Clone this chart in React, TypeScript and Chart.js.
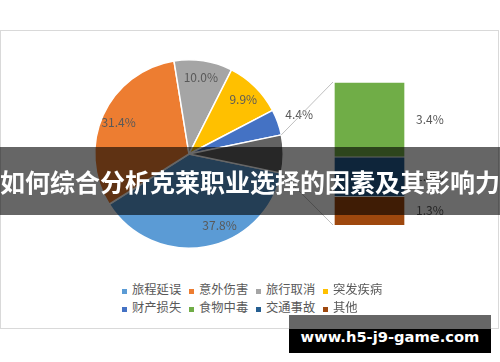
import React, { useEffect, useRef } from 'react';
import { Chart, registerables } from 'chart.js';

Chart.register(...registerables);

// ---- data ----
const mainCategories = ['旅程延误', '意外伤害', '旅行取消', '突发疾病', '财产损失'];
const mainValues = [37.8, 31.4, 10.0, 9.9, 4.4];
const detailCategories = ['食物中毒', '交通事故', '其他'];
const detailValues = [3.4, 1.8, 1.3];

const mainColors = ['#5B9BD5', '#ED7D31', '#A5A5A5', '#FFC000', '#4472C4'];
const detailColors = ['#70AD47', '#255E91', '#9E480E'];
const otherSliceColor = '#636363';

const bannerText = '如何综合分析克莱职业选择的因素及其影响力';
const watermarkText = 'www.h5-j9-game.com';

// ---- style / layout ----
const FONT = '"Noto Sans CJK SC", "Noto Sans", sans-serif';
const LABEL_COLOR = '#595959';
const PIE_BOX = { left: 0, top: 40, width: 378, height: 228 };
const BAR_BOX = { left: 320, top: 70, width: 140, height: 170 };
const LABEL_ANGLE_NUDGE = [-13, 0, 0, 0, 0];

const otherSum = detailValues.reduce((a, b) => a + b, 0);
const pieValues = [...mainValues, otherSum];
const total = pieValues.reduce((a, b) => a + b, 0);
const fmt = (v: number) => v.toFixed(1) + '%';

const pieLabelPlugin = {
  id: 'pieLabels',
  afterDatasetsDraw(chart: any) {
    const ctx = chart.ctx;
    const meta = chart.getDatasetMeta(0);
    ctx.save();
    ctx.font = `12px ${FONT}`;
    ctx.fillStyle = LABEL_COLOR;
    ctx.textAlign = 'center';
    ctx.textBaseline = 'middle';
    mainValues.forEach((v, i) => {
      const arc = meta.data[i];
      const p = arc.getProps(['x', 'y', 'startAngle', 'endAngle', 'outerRadius'], true);
      const share = v / total;
      const f = share < 0.05 ? 1.24 : 0.82;
      const mid = (p.startAngle + p.endAngle) / 2 + (LABEL_ANGLE_NUDGE[i] * Math.PI) / 180;
      ctx.fillText(fmt(v), p.x + Math.cos(mid) * p.outerRadius * f, p.y + Math.sin(mid) * p.outerRadius * f);
    });
    ctx.restore();
  },
};

const makeConnectorPlugin = (barChart: any) => ({
  id: 'connectors',
  afterDatasetsDraw(chart: any) {
    const ctx = chart.ctx;
    const arc = chart.getDatasetMeta(0).data[pieValues.length - 1];
    const p = arc.getProps(['x', 'y', 'startAngle', 'endAngle', 'outerRadius'], true);
    const n = barChart.data.datasets.length;
    const topEl = barChart.getDatasetMeta(n - 1).data[0].getProps(['x', 'y', 'width'], true);
    const botEl = barChart.getDatasetMeta(0).data[0].getProps(['x', 'base', 'width'], true);
    const dx = BAR_BOX.left - PIE_BOX.left;
    const dy = BAR_BOX.top - PIE_BOX.top;
    const leftX = topEl.x - topEl.width / 2 + dx - 1;
    ctx.save();
    ctx.strokeStyle = '#BFBFBF';
    ctx.lineWidth = 1;
    ctx.beginPath();
    ctx.moveTo(p.x + Math.cos(p.startAngle) * p.outerRadius, p.y + Math.sin(p.startAngle) * p.outerRadius);
    ctx.lineTo(leftX, topEl.y + dy);
    ctx.moveTo(p.x + Math.cos(p.endAngle) * p.outerRadius, p.y + Math.sin(p.endAngle) * p.outerRadius);
    ctx.lineTo(leftX, botEl.base + dy);
    ctx.stroke();
    ctx.restore();
  },
});

const barLabelPlugin = {
  id: 'barLabels',
  afterDatasetsDraw(chart: any) {
    const ctx = chart.ctx;
    ctx.save();
    ctx.font = `12px ${FONT}`;
    ctx.fillStyle = LABEL_COLOR;
    ctx.textAlign = 'left';
    ctx.textBaseline = 'middle';
    chart.data.datasets.forEach((ds: any, i: number) => {
      const el = chart.getDatasetMeta(i).data[0].getProps(['x', 'y', 'base', 'width'], true);
      ctx.fillText(fmt(ds.data[0]), el.x + el.width / 2 + 11, (el.y + el.base) / 2);
    });
    ctx.restore();
  },
};

export default function App() {
  const pieRef = useRef<HTMLCanvasElement>(null);
  const barRef = useRef<HTMLCanvasElement>(null);

  useEffect(() => {
    const barDatasets = detailCategories
      .map((c, i) => ({
        label: c,
        data: [detailValues[i]],
        backgroundColor: detailColors[i],
        borderColor: '#ffffff',
        borderWidth: 1,
        borderSkipped: 'start' as const,
        barPercentage: 1,
        categoryPercentage: 1,
      }))
      .reverse();

    const barChart = new Chart(barRef.current!, {
      type: 'bar',
      data: { labels: [''], datasets: barDatasets },
      options: {
        animation: false,
        responsive: false,
        events: [],
        layout: { padding: { left: 14, right: 55, top: 12, bottom: 15 } },
        scales: {
          x: { display: false, stacked: true },
          y: { display: false, stacked: true, min: 0, max: otherSum },
        },
        plugins: { legend: { display: false }, tooltip: { enabled: false } },
      },
      plugins: [barLabelPlugin],
    });

    const pieChart = new Chart(pieRef.current!, {
      type: 'pie',
      data: {
        labels: [...mainCategories, '其他'],
        datasets: [
          {
            data: pieValues,
            backgroundColor: [...mainColors, otherSliceColor],
            borderColor: '#ffffff',
            borderWidth: 1.5,
          },
        ],
      },
      options: {
        animation: false,
        responsive: false,
        events: [],
        rotation: 90 + ((otherSum / total) * 360) / 2,
        layout: { padding: { top: 19, bottom: 19 } },
        plugins: { legend: { display: false }, tooltip: { enabled: false } },
      },
      plugins: [pieLabelPlugin, makeConnectorPlugin(barChart)],
    });

    return () => {
      pieChart.destroy();
      barChart.destroy();
    };
  }, []);

  const legendItems = [
    ...mainCategories.map((c, i) => ({ label: c, color: mainColors[i] })),
    ...detailCategories.map((c, i) => ({ label: c, color: detailColors[i] })),
  ];

  return (
    <div
      style={{
        position: 'absolute',
        left: 0,
        top: 0,
        width: 500,
        height: 362,
        background: '#fff',
        overflow: 'hidden',
        fontFamily: FONT,
      }}
    >
      <div
        style={{
          position: 'absolute',
          left: 0,
          top: 30,
          width: 499,
          height: 299,
          boxSizing: 'border-box',
          border: '1px solid #D9D9D9',
        }}
      />
      <canvas
        ref={pieRef}
        width={PIE_BOX.width}
        height={PIE_BOX.height}
        style={{ position: 'absolute', left: PIE_BOX.left, top: PIE_BOX.top, width: PIE_BOX.width, height: PIE_BOX.height }}
      />
      <canvas
        ref={barRef}
        width={BAR_BOX.width}
        height={BAR_BOX.height}
        style={{ position: 'absolute', left: BAR_BOX.left, top: BAR_BOX.top, width: BAR_BOX.width, height: BAR_BOX.height }}
      />
      <div
        style={{
          position: 'absolute',
          left: 122,
          top: 280,
          display: 'grid',
          gridTemplateColumns: 'repeat(4, 67px)',
          gridAutoRows: '18px',
        }}
      >
        {legendItems.map((it) => (
          <div key={it.label} style={{ position: 'relative', height: 18 }}>
            <span style={{ position: 'absolute', left: 0, top: 9, width: 5, height: 5, background: it.color }} />
            <span
              style={{
                position: 'absolute',
                left: 10,
                top: 0,
                fontSize: 12.3,
                lineHeight: '18px',
                color: LABEL_COLOR,
                whiteSpace: 'nowrap',
              }}
            >
              {it.label}
            </span>
          </div>
        ))}
      </div>
      <div
        style={{
          position: 'absolute',
          left: 0,
          top: 147,
          width: 500,
          height: 68,
          background: 'rgba(0,0,0,0.6)',
          color: '#fff',
          fontWeight: 700,
          fontSize: 25,
          lineHeight: '68px',
          textAlign: 'center',
          whiteSpace: 'nowrap',
          overflow: 'visible',
        }}
      >
        {bannerText}
      </div>
      <div style={{ position: 'absolute', left: 289, top: 315, width: 202, height: 14, background: '#666' }} />
      <div style={{ position: 'absolute', left: 289, top: 329, width: 202, height: 24, background: '#000' }} />
      <div
        style={{
          position: 'absolute',
          left: 289,
          top: 325,
          width: 202,
          height: 24,
          lineHeight: '24px',
          textAlign: 'center',
          color: '#fff',
          fontWeight: 700,
          fontSize: 14.7,
          fontFamily: '"DejaVu Sans", sans-serif',
          whiteSpace: 'nowrap',
        }}
      >
        {watermarkText}
      </div>
    </div>
  );
}
